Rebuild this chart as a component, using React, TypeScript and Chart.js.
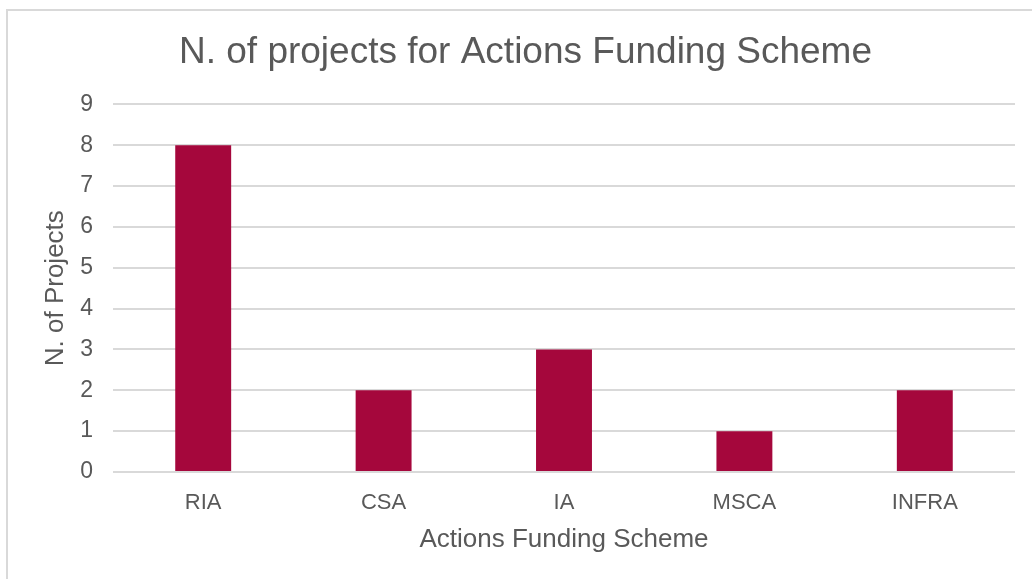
import React, { useEffect, useRef } from "react";
import { Chart, registerables } from "chart.js";

Chart.register(...registerables);

const categories = ["RIA", "CSA", "IA", "MSCA", "INFRA"];
const projectCounts = [8, 2, 3, 1, 2];
const yTicks = [0, 1, 2, 3, 4, 5, 6, 7, 8, 9];

const chartTitle = "N. of projects for Actions Funding Scheme";
const xTitle = "Actions Funding Scheme";
const yTitle = "N. of Projects";

const FONT = "'Liberation Sans', Arial, sans-serif";
const TEXT = "#595959";
const GRID = "#d9d9d9";
const BAR = "#A5073C";

const shiftTitle = {
  id: "shiftTitle",
  afterLayout(chart: any) {
    if (chart.titleBlock) {
      chart.titleBlock.left = 36;
    }
  },
};

export default function App() {
  const ref = useRef<HTMLCanvasElement | null>(null);

  useEffect(() => {
    if (!ref.current) return;
    const chart = new Chart(ref.current, {
      type: "bar",
      data: {
        labels: categories,
        datasets: [
          {
            label: yTitle,
            data: projectCounts,
            backgroundColor: BAR,
            borderWidth: 0,
            barPercentage: 0.62,
            categoryPercentage: 0.5,
          },
        ],
      },
      plugins: [shiftTitle],
      options: {
        animation: false,
        responsive: false,
        maintainAspectRatio: false,
        layout: { padding: { top: 10, right: 17, bottom: 0, left: 0 } },
        plugins: {
          legend: { display: false },
          tooltip: { enabled: false },
          title: {
            display: true,
            text: chartTitle,
            color: TEXT,
            font: { family: FONT, size: 37, weight: "normal" },
            padding: { top: 21, bottom: 29 },
          },
        },
        scales: {
          x: {
            grid: { display: false },
            border: { display: false },
            ticks: {
              color: TEXT,
              font: { family: FONT, size: 22 },
              padding: 10,
            },
            title: {
              display: true,
              text: xTitle,
              color: TEXT,
              font: { family: FONT, size: 26 },
              padding: { top: 4, bottom: 24 },
            },
            afterFit: (s: any) => {
              s.height = 107;
            },
          },
          y: {
            min: 0,
            max: 9,
            afterBuildTicks: (s: any) => {
              s.ticks = yTicks.map((v) => ({ value: v }));
            },
            grid: { color: GRID, lineWidth: 2, drawTicks: false },
            border: { display: false },
            ticks: {
              color: TEXT,
              font: { family: FONT, size: 23 },
              padding: 20,
            },
            title: {
              display: true,
              text: yTitle,
              color: TEXT,
              font: { family: FONT, size: 26 },
              padding: { top: 40, bottom: 0 },
            },
            afterFit: (s: any) => {
              s.width = 113;
            },
          },
        },
      },
    });
    return () => chart.destroy();
  }, []);

  return (
    <div
      style={{
        position: "fixed",
        left: 0,
        top: 0,
        width: 1032,
        height: 579,
        background: "#fff",
        overflow: "hidden",
      }}
    >
      <div
        style={{
          position: "absolute",
          left: 6,
          top: 9,
          width: 1100,
          height: 700,
          border: "2px solid #d9d9d9",
          boxSizing: "border-box",
        }}
      />
      <canvas
        ref={ref}
        width={1032}
        height={579}
        style={{ position: "absolute", left: 0, top: 0, width: 1032, height: 579 }}
      />
    </div>
  );
}
